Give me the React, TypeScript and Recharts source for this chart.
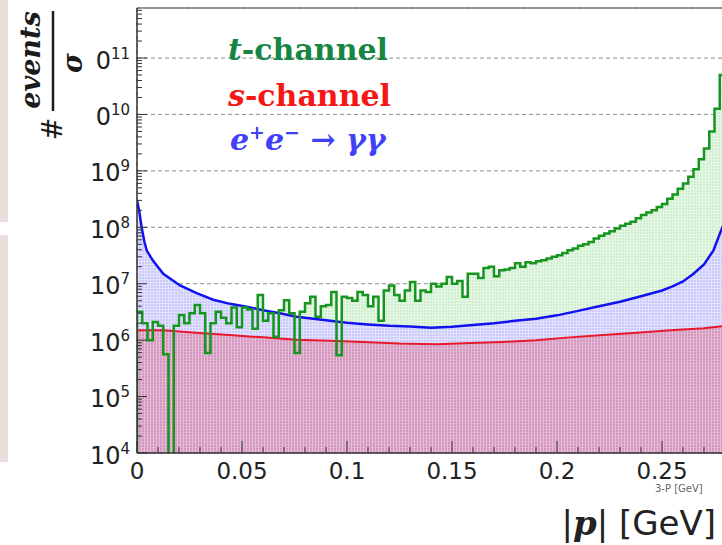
import { ComposedChart, Area, Line, XAxis, YAxis, CartesianGrid } from "recharts";

// t-channel histogram, one entry per 0.0025 GeV bin starting at |p| = 0
const tChannelBinWidth = 0.0025;
const tChannelCounts = [
  3.2e6, 2.0e6, 1.0e6, 2.1e6, 1.8e6, 5.6e5, 1e3, 1.8e6, 2.8e6, 2.0e6,
  3.0e6, 4.2e6, 3.0e6, 5.9e5, 2.0e6, 3.2e6, 2.5e6, 2.0e6, 3.8e6, 1.7e6,
  3.8e6, 3.5e6, 1.6e6, 6.3e6, 2.2e6, 3.0e6, 1.15e6, 3.4e6, 5.1e6, 3.0e6,
  5.9e5, 3.2e6, 4.5e6, 5.9e6, 2.6e6, 4.0e6, 4.2e6, 7.1e6, 5.4e5, 5.9e6,
  5.6e6, 5.0e6, 7.1e6, 6.3e6, 4.0e6, 5.9e6, 2.2e6, 7.6e6, 9.3e6, 6.3e6,
  5.0e6, 7.6e6, 1.07e7, 5.0e6, 7.6e6, 7.1e6, 1.0e7, 8.9e6, 1.0e7, 1.32e7,
  1.0e7, 1.12e7, 5.9e6, 1.5e7, 1.5e7, 1.26e7, 1.9e7, 2.0e7, 1.35e7, 1.74e7,
  1.78e7, 1.9e7, 2.3e7, 2.0e7, 2.4e7, 2.3e7, 2.5e7, 2.6e7, 2.8e7, 3.0e7,
  3.2e7, 3.5e7, 3.9e7, 4.2e7, 4.7e7, 5.0e7, 5.5e7, 6.3e7, 7.1e7, 7.8e7,
  8.5e7, 9.5e7, 1.07e8, 1.15e8, 1.26e8, 1.45e8, 1.66e8, 1.82e8, 2.0e8, 2.3e8,
  2.6e8, 3.2e8, 3.8e8, 4.8e8, 6.0e8, 7.9e8, 1.07e9, 1.6e9, 2.5e9, 5.0e9,
  1.26e10, 5.0e10,
];

// s-channel
const sChannelP = [0, 0.0125, 0.028, 0.044, 0.06, 0.076, 0.092, 0.108, 0.125, 0.143, 0.159, 0.174, 0.19, 0.206, 0.222, 0.238, 0.254, 0.27, 0.28];
const sChannelCounts = [1.5e6, 1.5e6, 1.35e6, 1.23e6, 1.12e6, 1.02e6, 9.8e5, 9.3e5, 8.7e5, 8.5e5, 8.9e5, 9.3e5, 1.0e6, 1.12e6, 1.23e6, 1.35e6, 1.5e6, 1.62e6, 1.78e6];

// e+e- -> gamma gamma
const gammaP = [0, 0.001, 0.0022, 0.0035, 0.0046, 0.0075, 0.0125, 0.0205, 0.0284, 0.0363, 0.0443, 0.0522, 0.06, 0.068, 0.076, 0.084, 0.092, 0.1, 0.11, 0.12, 0.13, 0.14, 0.15, 0.16, 0.17, 0.18, 0.19, 0.2, 0.21, 0.22, 0.23, 0.24, 0.25, 0.255, 0.26, 0.265, 0.27, 0.2745, 0.2776, 0.28];
const gammaCounts = [3.0e8, 2.0e8, 1.0e8, 5.6e7, 3.9e7, 2.6e7, 1.5e7, 9.3e6, 6.8e6, 5.2e6, 4.4e6, 3.9e6, 3.4e6, 3.0e6, 2.6e6, 2.4e6, 2.2e6, 2.04e6, 1.9e6, 1.8e6, 1.74e6, 1.66e6, 1.72e6, 1.86e6, 2.0e6, 2.2e6, 2.4e6, 2.75e6, 3.3e6, 4.0e6, 4.8e6, 6.0e6, 7.6e6, 9.0e6, 1.1e7, 1.5e7, 2.2e7, 3.9e7, 7.8e7, 1.3e8];

const xTicks = [0, 0.05, 0.1, 0.15, 0.2, 0.25];
const xMinorTicks = [0.01, 0.02, 0.03, 0.04, 0.06, 0.07, 0.08, 0.09, 0.11, 0.12, 0.13, 0.14, 0.16, 0.17, 0.18, 0.19, 0.21, 0.22, 0.23, 0.24, 0.26, 0.27];
const yTicks = [1e4, 1e5, 1e6, 1e7, 1e8, 1e9, 1e10, 1e11];

const xDomain = [0, 0.28];
const yDomain = [1e4, 7.7e11];

// log minor ticks 2..9 inside every decade
const yMinorTicks: number[] = [];
yTicks.forEach((d) => {
  for (let k = 2; k <= 9; k++) if (k * d < yDomain[1]) yMinorTicks.push(k * d);
});
const xAllTicks = [...xTicks, ...xMinorTicks].sort((a, b) => a - b);
const yAllTicks = [...yTicks, ...yMinorTicks].sort((a, b) => a - b);

// histogram edges: start at the floor so the first bin edge is drawn, close the last bin
const tData = [
  { x: 0, v: 1e3 },
  ...tChannelCounts.map((v, i) => ({ x: i * tChannelBinWidth, v })),
  { x: tChannelCounts.length * tChannelBinWidth, v: tChannelCounts[tChannelCounts.length - 1] },
];
const sData = sChannelP.map((x, i) => ({ x, v: sChannelCounts[i] }));
const gData = gammaP.map((x, i) => ({ x, v: gammaCounts[i] }));

// ticks point into the frame, labels only on the decades
const YTick = ({ x, y, payload }: any) => {
  const major = yTicks.includes(payload.value);
  return (
    <g>
      <line x1={x + 7} x2={x + 7 + (major ? 10 : 5)} y1={y} y2={y} stroke="#333" strokeWidth={1} />
      {major && (
        <text x={x} y={y} dy={10.5} textAnchor="end" fontFamily="DejaVu Sans" fontSize={24} fill="#222">
          10
          <tspan dy={-10} fontSize={15}>{Math.round(Math.log10(payload.value))}</tspan>
        </text>
      )}
    </g>
  );
};

const XTick = ({ x, y, payload }: any) => {
  const major = xTicks.includes(payload.value);
  return (
    <g>
      <line x1={x} x2={x} y1={y} y2={y - (major ? 12 : 6)} stroke="#333" strokeWidth={1} />
      {major && (
        <text x={x} y={y} dy={26} textAnchor="middle" fontFamily="DejaVu Sans" fontSize={23} fill="#222">
          {String(payload.value)}
        </text>
      )}
    </g>
  );
};

export default function App() {
  return (
    <div style={{ position: "fixed", left: 0, top: 0, width: 722, height: 545, overflow: "hidden", background: "#fff" }}>
      <svg width={0} height={0} style={{ position: "absolute" }}>
        <defs>
          <pattern id="fillT" width={3} height={3} patternUnits="userSpaceOnUse">
            <rect width={3} height={3} fill="#cfeecf" />
            <rect width={1} height={3} fill="#e6f7e6" />
            <rect width={3} height={1} fill="#e6f7e6" />
          </pattern>
          <pattern id="fillG" width={3} height={3} patternUnits="userSpaceOnUse">
            <rect width={3} height={3} fill="#c9c9fb" />
            <rect width={1} height={3} fill="#e2e2ff" />
            <rect width={3} height={1} fill="#e2e2ff" />
          </pattern>
          <pattern id="fillS" width={3} height={3} patternUnits="userSpaceOnUse">
            <rect width={3} height={3} fill="#d695b8" />
            <rect width={1} height={3} fill="#e7c3dc" />
            <rect width={3} height={1} fill="#dcb2d6" />
          </pattern>
        </defs>
      </svg>
      <ComposedChart width={725} height={545} margin={{ top: 7, right: 0, bottom: 52, left: 0 }}>
        <CartesianGrid xAxisId="grid" yAxisId="grid" strokeDasharray="4 3" stroke="#8c8c8c" strokeWidth={1} />
        <XAxis xAxisId="grid" type="number" domain={xDomain} allowDataOverflow ticks={xTicks} hide />
        <YAxis yAxisId="grid" scale="log" type="number" domain={yDomain} allowDataOverflow ticks={yTicks} hide />
        <XAxis
          type="number"
          dataKey="x"
          domain={xDomain}
          allowDataOverflow
          ticks={xAllTicks}
          interval={0}
          height={40}
          tickSize={0}
          tickMargin={0}
          tickLine={false}
          tick={<XTick />}
          axisLine={{ stroke: "#333", strokeWidth: 1.5 }}
        />
        <XAxis xAxisId="top" orientation="top" type="number" domain={xDomain} allowDataOverflow height={1} tick={false} tickLine={false} axisLine={{ stroke: "#777", strokeWidth: 1.5 }} />
        <YAxis
          scale="log"
          type="number"
          domain={yDomain}
          allowDataOverflow
          ticks={yAllTicks}
          interval={0}
          width={137}
          tickSize={0}
          tickMargin={7}
          tickLine={false}
          tick={<YTick />}
          axisLine={{ stroke: "#333", strokeWidth: 1.5 }}
        />

        <Area data={tData} dataKey="v" type="stepAfter" baseValue={1e4} fill="url(#fillT)" fillOpacity={1} stroke="none" isAnimationActive={false} />
        <Area data={gData} dataKey="v" type="linear" baseValue={1e4} fill="url(#fillG)" fillOpacity={1} stroke="none" isAnimationActive={false} />
        <Area data={sData} dataKey="v" type="linear" baseValue={1e4} fill="url(#fillS)" fillOpacity={1} stroke="none" isAnimationActive={false} />
        <Line data={sData} dataKey="v" type="linear" stroke="#e8182c" strokeWidth={2} dot={false} activeDot={false} isAnimationActive={false} />
        <Line data={gData} dataKey="v" type="linear" stroke="#1212f0" strokeWidth={2.5} dot={false} activeDot={false} isAnimationActive={false} />
        <Line data={tData} dataKey="v" type="stepAfter" stroke="#17961f" strokeWidth={2.5} dot={false} activeDot={false} isAnimationActive={false} />
      </ComposedChart>

      <svg width={722} height={545} style={{ position: "absolute", left: 0, top: 0, pointerEvents: "none" }}>
        <rect x={0} y={0} width={8} height={222} fill="#e9dfdc" />
        <rect x={0} y={235} width={8} height={227} fill="#e9dfdc" />
        <rect x={8} y={0} width={88} height={140} fill="#fff" />

        <g transform="rotate(-90)" fill="#1c1c1c">
          <text x={-60} y={40} textAnchor="middle" fontFamily="DejaVu Serif" fontWeight="bold" fontStyle="italic" fontSize={27}>events</text>
          <line x1={-111} x2={-11} y1={53} y2={53} stroke="#1c1c1c" strokeWidth={2.5} />
          <text x={-63} y={82} textAnchor="middle" fontFamily="DejaVu Serif" fontWeight="bold" fontStyle="italic" fontSize={27}>σ</text>
          <text x={-129} y={62} textAnchor="middle" fontFamily="DejaVu Serif" fontSize={27}>#</text>
        </g>

        <text x={228} y={60} fontFamily="DejaVu Serif" fontWeight="bold" fontSize={30} fill="#178645">
          <tspan fontStyle="italic">t</tspan>-channel
        </text>
        <text x={228} y={106} fontFamily="DejaVu Serif" fontWeight="bold" fontSize={30} fill="#f51616">
          <tspan fontStyle="italic">s</tspan>-channel
        </text>
        <text x={230} y={150} fontFamily="DejaVu Serif" fontWeight="bold" fontStyle="italic" fontSize={30} fill="#4040f8">
          e<tspan dy={-11} fontSize={19}>+</tspan><tspan dy={11}>e</tspan><tspan dy={-11} fontSize={19}>−</tspan><tspan dy={11} fontStyle="normal"> → </tspan>γγ
        </text>

        <text x={655} y={492} fontFamily="DejaVu Sans" fontSize={10} fill="#666">3-P [GeV]</text>
        <text x={716} y={535} textAnchor="end" fontFamily="DejaVu Sans" fontSize={34} fill="#222">
          |<tspan fontFamily="DejaVu Serif" fontWeight="bold" fontStyle="italic">p</tspan>| [GeV]
        </text>
      </svg>
    </div>
  );
}
